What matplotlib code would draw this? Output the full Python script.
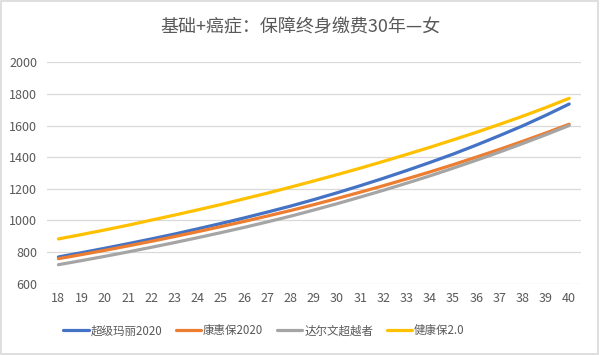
import matplotlib.pyplot as plt
from matplotlib.patches import Rectangle

plt.rcParams["font.family"] = ["Noto Sans CJK SC", "DejaVu Sans"]

# ages on the category axis
ages = list(range(18, 41))

# yearly premium per product
super_mary = [768, 795, 823, 852, 882, 913, 946, 980, 1015, 1052, 1090, 1131,
              1174, 1219, 1266, 1315, 1366, 1419, 1476, 1536, 1598, 1665, 1736]
kanghuibao = [757, 783, 810, 838, 867, 897, 928, 960, 993, 1027, 1062, 1099,
              1138, 1178, 1219, 1262, 1306, 1352, 1400, 1449, 1500, 1553, 1608]
darwin = [719, 745, 772, 800, 829, 859, 890, 922, 955, 990, 1026, 1065,
          1105, 1147, 1190, 1235, 1281, 1330, 1380, 1432, 1486, 1542, 1600]
jiankangbao = [882, 910, 939, 969, 1001, 1033, 1066, 1100, 1136, 1172, 1210, 1249,
               1289, 1330, 1373, 1417, 1462, 1509, 1557, 1607, 1659, 1714, 1772]

series_names = ["超级玛丽2020", "康惠保2020", "达尔文超越者", "健康保2.0"]
series_values = [super_mary, kanghuibao, darwin, jiankangbao]
colors = ["#4472C4", "#ED7D31", "#A5A5A5", "#FFC000"]

y_ticks = [600, 800, 1000, 1200, 1400, 1600, 1800, 2000]
text_color = "#595959"

fig = plt.figure(figsize=(6, 3.55), dpi=100)
fig.patches.append(Rectangle((0.002, 0.003), 0.995, 0.993, transform=fig.transFigure,
                             fill=False, edgecolor="#D9D9D9", linewidth=1.2))

ax = fig.add_axes([0.078, 0.2014, 0.890, 0.6231])
x = list(range(len(ages)))
for name, vals, c in zip(series_names, series_values, colors):
    ax.plot(x, vals, color=c, linewidth=2.3, label=name, solid_capstyle="round")

ax.set_xlim(-0.5, len(ages) - 0.5)
ax.set_ylim(600, 2000)
ax.set_yticks(y_ticks)
ax.set_xticks(x)
ax.set_xticklabels([str(a) for a in ages])
ax.grid(axis="y", color="#D9D9D9", linewidth=0.9)
ax.set_axisbelow(True)
for s in ax.spines.values():
    s.set_visible(False)
ax.tick_params(length=0, labelsize=9, colors=text_color, pad=6)
ax.tick_params(axis="y", pad=7)

fig.text(0.5, 0.923, "基础+癌症：保障终身缴费30年—女", ha="center", va="center",
         fontsize=13, color=text_color)

fig.legend(loc="center", bbox_to_anchor=(0.44, 0.068), ncol=4, frameon=False,
           fontsize=8.3, handlelength=2.2, handletextpad=0.15, columnspacing=1.2,
           labelcolor=text_color)

fig.savefig("out.png", dpi=100)
